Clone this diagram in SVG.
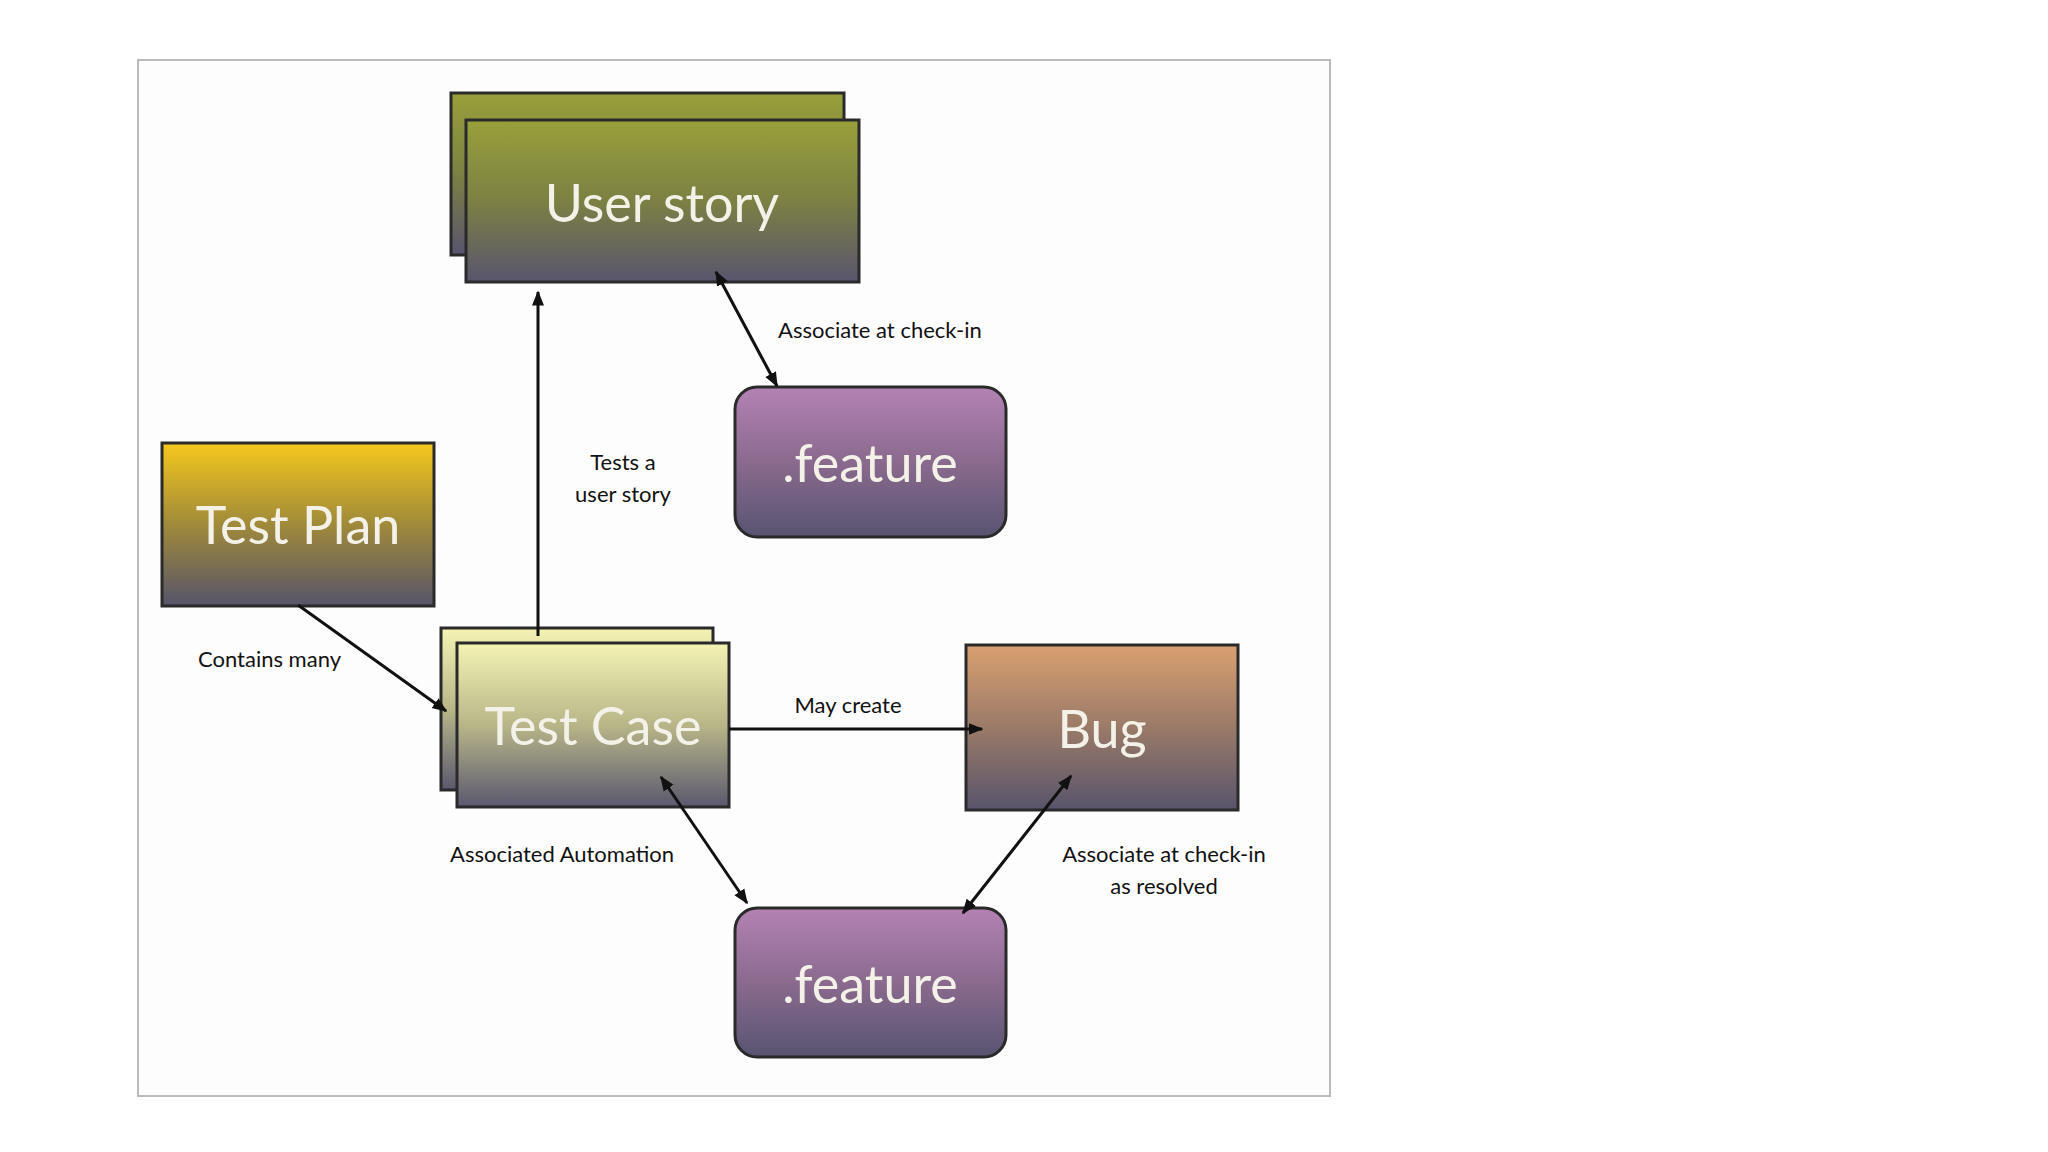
<svg xmlns="http://www.w3.org/2000/svg" width="2048" height="1152" viewBox="0 0 2048 1152">
<defs>
<linearGradient id="gUS" x1="0" y1="0" x2="0" y2="1"><stop offset="0" stop-color="#98a03a"/><stop offset="0.5" stop-color="#7c8043"/><stop offset="1" stop-color="#58546e"/></linearGradient>
<linearGradient id="gTP" x1="0" y1="0" x2="0" y2="1"><stop offset="0" stop-color="#f6c81c"/><stop offset="0.5" stop-color="#a08a3a"/><stop offset="1" stop-color="#56546a"/></linearGradient>
<linearGradient id="gTC" x1="0" y1="0" x2="0" y2="1"><stop offset="0" stop-color="#f4f4b4"/><stop offset="0.5" stop-color="#b8b688"/><stop offset="1" stop-color="#5a586e"/></linearGradient>
<linearGradient id="gBug" x1="0" y1="0" x2="0" y2="1"><stop offset="0" stop-color="#daa070"/><stop offset="0.5" stop-color="#9a7a68"/><stop offset="1" stop-color="#58546c"/></linearGradient>
<linearGradient id="gF" x1="0" y1="0" x2="0" y2="1"><stop offset="0" stop-color="#b482b4"/><stop offset="0.5" stop-color="#8a6a8e"/><stop offset="1" stop-color="#585470"/></linearGradient>
<marker id="ah" viewBox="0 0 10 10" refX="9" refY="5" markerWidth="5" markerHeight="5" orient="auto-start-reverse"><path d="M0,1 L10,5 L0,9 z" fill="#111"/></marker>
</defs>
<style>
.box{stroke:#2a2a2a;stroke-width:3}
.big{font-family:Lato,"Open Sans",sans-serif;font-size:52px;fill:#f4f2e8;text-anchor:middle}
.lbl{font-family:Lato,"Open Sans",sans-serif;font-size:22px;fill:#111}
.c{text-anchor:middle}
.ln{stroke:#111;stroke-width:3;fill:none}
</style>
<rect width="2048" height="1152" fill="#fff"/>
<rect x="138" y="60" width="1192" height="1036" fill="#fefdfe" stroke="#bbb" stroke-width="2"/>
<g id="userstory">
<rect class="box" x="451" y="93" width="393" height="162" fill="url(#gUS)"/>
<rect class="box" x="466" y="120" width="393" height="162" fill="url(#gUS)"/>
<text class="big" x="662" y="222">User story</text>
</g>
<g id="feature1">
<rect class="box" x="735" y="387" width="271" height="150" rx="22" fill="url(#gF)"/>
<text class="big" x="870" y="482">.feature</text>
</g>
<g id="testplan">
<rect class="box" x="162" y="443" width="272" height="163" fill="url(#gTP)"/>
<text class="big" x="298" y="544">Test Plan</text>
</g>
<g id="testcase">
<rect class="box" x="441" y="628" width="272" height="162" fill="url(#gTC)"/>
<rect class="box" x="457" y="643" width="272" height="164" fill="url(#gTC)"/>
<text class="big" x="593" y="745">Test Case</text>
</g>
<g id="bug">
<rect class="box" x="966" y="645" width="272" height="165" fill="url(#gBug)"/>
<text class="big" x="1102" y="748">Bug</text>
</g>
<g id="feature2">
<rect class="box" x="735" y="908" width="271" height="149" rx="22" fill="url(#gF)"/>
<text class="big" x="870" y="1003">.feature</text>
</g>
<g id="connectors">
<line class="ln" x1="538" y1="636" x2="538" y2="292" marker-end="url(#ah)"/>
<line class="ln" x1="716" y1="272" x2="777" y2="386" marker-start="url(#ah)" marker-end="url(#ah)"/>
<line class="ln" x1="298" y1="605" x2="446" y2="711" marker-end="url(#ah)"/>
<line class="ln" x1="729" y1="729" x2="982" y2="729" marker-end="url(#ah)"/>
<line class="ln" x1="661" y1="777" x2="747" y2="903" marker-start="url(#ah)" marker-end="url(#ah)"/>
<line class="ln" x1="1071" y1="776" x2="963" y2="913" marker-start="url(#ah)" marker-end="url(#ah)"/>
</g>
<g id="labels">
<text class="lbl" x="778" y="338">Associate at check-in</text>
<text class="lbl c" x="623" y="470">Tests a</text>
<text class="lbl c" x="623" y="502">user story</text>
<text class="lbl" x="198" y="667">Contains many</text>
<text class="lbl c" x="848" y="713">May create</text>
<text class="lbl" x="450" y="862">Associated Automation</text>
<text class="lbl c" x="1164" y="862">Associate at check-in</text>
<text class="lbl c" x="1164" y="894">as resolved</text>
</g>
</svg>
